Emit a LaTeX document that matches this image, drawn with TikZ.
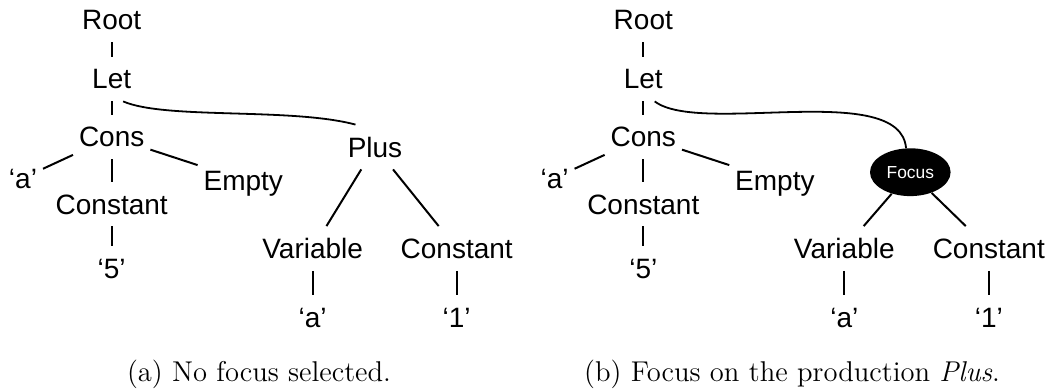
\documentclass[tikz,border=0pt]{standalone}
\usepackage{fontspec}
\newfontfamily\treefont{Liberation Sans}
\usetikzlibrary{shapes.geometric}
\begin{document}
\begin{tikzpicture}[x=0.5pt,y=-0.5pt,
  tn/.style={font=\treefont\fontsize{14}{16}\selectfont, text height=10pt, text depth=0pt, inner xsep=2.8pt, inner ysep=6pt},
  edge/.style={line width=1pt},
  curve/.style={line width=0.9pt},
  focusnode/.style={ellipse, fill=black, text=white, minimum width=40.3pt, minimum height=23.9pt, inner sep=0pt, font=\treefont\fontsize{8.7}{10}\selectfont},
  capt/.style={font=\fontsize{14.3}{17}\selectfont, anchor=base}]
\useasboundingbox (0,0) rectangle (1054,390);
% ---------- left tree ----------
\node[tn] (root1) at (111.7,19.7) {Root};
\node[tn] (let1) at (111.7,79) {Let};
\node[tn] (cons1) at (111.7,137) {Cons};
\node[tn] (qa1) at (23,178) {‘a’};
\node[tn] (constA1) at (111.7,204) {Constant};
\node[tn] (five1) at (111.7,268) {‘5’};
\node[tn] (empty1) at (243.3,180) {Empty};
\node[tn] (plus1) at (375,147) {Plus};
\node[tn] (var1) at (312.7,248.5) {Variable};
\node[tn] (constB1) at (456.7,248.5) {Constant};
\node[tn] (qb1) at (312.7,317) {‘a’};
\node[tn] (one1) at (456.7,317) {‘1’};
\draw[edge] (root1) -- (let1);
\draw[edge] (let1) -- (cons1);
\draw[edge] (cons1) -- (qa1);
\draw[edge] (cons1) -- (constA1);
\draw[edge] (cons1) -- (empty1);
\draw[edge] (constA1) -- (five1);
\draw[curve] (let1.-63) .. controls +(42.3,18.3) and +(-65,-17.3) .. (plus1.131);
\draw[edge] (plus1) -- (var1);
\draw[edge] (plus1) -- (constB1);
\draw[edge] (var1) -- (qb1);
\draw[edge] (constB1) -- (one1);
\node[capt] (capa) at (259,381) {(a) No focus selected.};
% ---------- right tree ----------
\node[tn] (root2) at (643.3,19.7) {Root};
\node[tn] (let2) at (643.3,79) {Let};
\node[tn] (cons2) at (643.3,137) {Cons};
\node[tn] (qa2) at (554.6,178) {‘a’};
\node[tn] (constA2) at (643.3,204) {Constant};
\node[tn] (five2) at (643.3,268) {‘5’};
\node[tn] (empty2) at (774.9,180) {Empty};
\node[focusnode] (focus) at (910.3,172.2) {Focus};
\node[tn] (var2) at (844.3,248.5) {Variable};
\node[tn] (constB2) at (988.8,248.5) {Constant};
\node[tn] (qb2) at (844.3,317) {‘a’};
\node[tn] (one2) at (988.8,317) {‘1’};
\draw[edge] (root2) -- (let2);
\draw[edge] (let2) -- (cons2);
\draw[edge] (cons2) -- (qa2);
\draw[edge] (cons2) -- (constA2);
\draw[edge] (cons2) -- (empty2);
\draw[edge] (constA2) -- (five2);
\draw[curve] (let2.-63) .. controls +(45,34.3) and +(-6,-68.3) .. (focus.100);
\draw[edge] (focus) -- (var2);
\draw[edge] (focus) -- (constB2);
\draw[edge] (var2) -- (qb2);
\draw[edge] (constB2) -- (one2);
\node[capt] (capb) at (792,381) {(b) Focus on the production \emph{Plus}.};
\end{tikzpicture}
\end{document}
